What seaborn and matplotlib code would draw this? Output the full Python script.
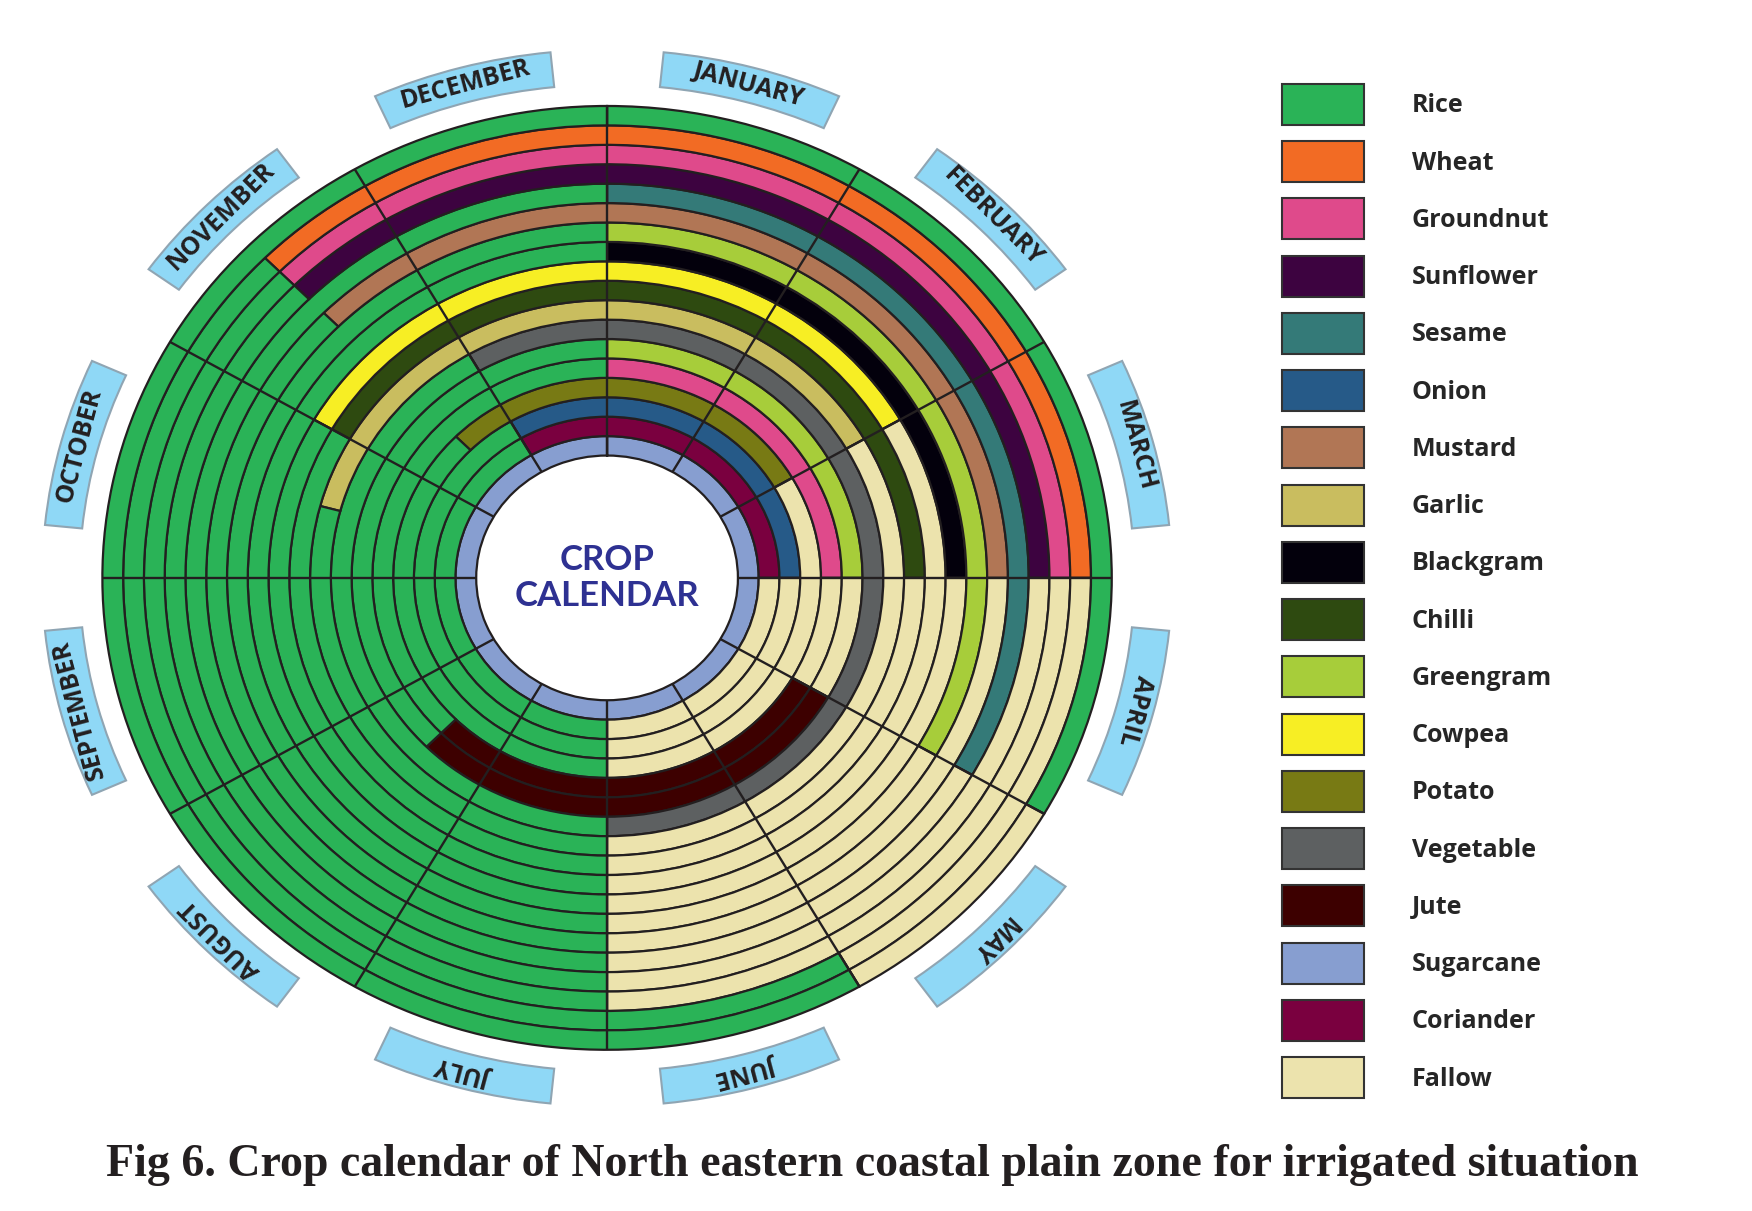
import numpy as np
import pandas as pd
import matplotlib
matplotlib.use("Agg")
import matplotlib.pyplot as plt
import seaborn as sns
from matplotlib.patches import Patch

# ---- data -------------------------------------------------------------
crops = ["Rice", "Wheat", "Groundnut", "Sunflower", "Sesame", "Onion", "Mustard",
         "Garlic", "Blackgram", "Chilli", "Greengram", "Cowpea", "Potato",
         "Vegetable", "Jute", "Sugarcane", "Coriander", "Fallow"]
crop_colors = ["#2ab357", "#f26b24", "#df4a8b", "#3d0340", "#347a78", "#265a88",
               "#b17655", "#c9bd5f", "#03000c", "#2e4a10", "#a7cd3a", "#f7ee24",
               "#787a14", "#5d6061", "#3d0000", "#879ed0", "#7a003f", "#ece3ad"]
months = ["JANUARY", "FEBRUARY", "MARCH", "APRIL", "MAY", "JUNE", "JULY",
          "AUGUST", "SEPTEMBER", "OCTOBER", "NOVEMBER", "DECEMBER"]

# ring 1 = innermost; start/end in months from 1 January (values > 12 wrap round)
seg_ring = [1,
            2, 2, 2,
            3, 3, 3,
            4, 4, 4,
            5, 5, 5, 5,
            6, 6, 6, 6,
            7, 7,
            8, 8, 8,
            9, 9, 9,
            10, 10, 10,
            11, 11, 11,
            12, 12, 12,
            13, 13, 13,
            14, 14, 14,
            15, 15, 15,
            16, 16, 16,
            17, 17, 17,
            18, 18, 18]
seg_crop = ["Sugarcane",
            "Coriander", "Fallow", "Rice",
            "Onion", "Fallow", "Rice",
            "Potato", "Fallow", "Rice",
            "Groundnut", "Fallow", "Jute", "Rice",
            "Greengram", "Fallow", "Jute", "Rice",
            "Vegetable", "Rice",
            "Garlic", "Fallow", "Rice",
            "Chilli", "Fallow", "Rice",
            "Cowpea", "Fallow", "Rice",
            "Blackgram", "Fallow", "Rice",
            "Greengram", "Fallow", "Rice",
            "Mustard", "Fallow", "Rice",
            "Sesame", "Fallow", "Rice",
            "Sunflower", "Fallow", "Rice",
            "Groundnut", "Fallow", "Rice",
            "Wheat", "Fallow", "Rice",
            "Rice", "Fallow", "Rice"]
seg_start = [0,
             11, 3, 6,
             11, 3, 6,
             10.5, 2, 6,
             0, 3, 4, 7.5,
             0, 3, 4, 7.5,
             11, 6,
             9.5, 2, 6,
             10, 3, 6,
             10, 2, 6,
             0, 3, 6,
             0, 4, 6,
             10.5, 3, 6,
             0, 4, 6,
             10.5, 3, 6,
             10.5, 3, 6,
             10.5, 3, 5,
             0, 4, 5]
seg_end = [12,
           15, 6, 11,
           15, 6, 11,
           14, 6, 10.5,
           3, 4, 7.5, 12,
           3, 4, 7.5, 12,
           18, 11,
           14, 6, 9.5,
           15, 6, 10,
           14, 6, 10,
           3, 6, 12,
           4, 6, 12,
           15, 6, 10.5,
           4, 6, 12,
           15, 6, 10.5,
           15, 6, 10.5,
           15, 5, 10.5,
           4, 5, 12]

# ---- style ------------------------------------------------------------
sns.set_theme(style="white")
plt.rcParams["font.family"] = ["Open Sans", "DejaVu Sans"]
palette = dict(zip(crops, crop_colors))
edge = "#231f20"

df = pd.DataFrame({"ring": seg_ring, "crop": seg_crop,
                   "start": seg_start, "end": seg_end})

r0 = 6.3          # radius of the hole
rmax = 27.5

fig = plt.figure(figsize=(17.52, 12.11), dpi=100)
ax = fig.add_axes([0.0205, 0.0818, 0.652, 0.882], projection="polar")
ax.set_aspect("auto")
ax.set_theta_zero_location("N")
ax.set_theta_direction(-1)

to_rad = np.pi / 6.0
for _, row in df.iterrows():
    ax.bar(x=row["start"] * to_rad, height=1.0,
           width=(row["end"] - row["start"]) * to_rad,
           bottom=r0 + row["ring"] - 1, align="edge",
           color=palette[row["crop"]], edgecolor=edge, linewidth=1.6)

# month dividers through all rings
n_rings = max(seg_ring)
ax.vlines(np.arange(12) * to_rad, r0, r0 + n_rings, color=edge, linewidth=1.7)

# month banners
for i, name in enumerate(months):
    mid = (i + 0.5) * to_rad
    ax.bar(x=mid, height=1.8, width=np.deg2rad(18.5), bottom=25.4,
           color="#8fd8f6", edgecolor="#8fa5b3", linewidth=1.5)
    ax.text(mid, 26.3, name, rotation=-(i + 0.5) * 30, rotation_mode="anchor",
            ha="center", va="center", fontsize=18, fontweight="bold",
            color="#231f20")

ax.text(0, 0, "CROP\nCALENDAR", ha="center", va="center", fontsize=25,
        fontweight="bold", color="#2e3192", linespacing=1.15,
        family=["Lato", "DejaVu Sans"])

ax.set_ylim(0, rmax)
ax.set_axis_off()

# legend
handles = [Patch(facecolor=c, edgecolor="#333333", linewidth=1.5) for c in crop_colors]
fig.legend(handles, crops, loc="upper left",
           bbox_to_anchor=(1282 / 1752, 1 - 84 / 1211),
           frameon=False, borderpad=0, borderaxespad=0,
           handlelength=3.28, handleheight=2.146, labelspacing=0.65,
           handletextpad=1.9, prop={"weight": "bold", "size": 18})

fig.text((108 + 1636) / 2 / 1752, 1 - 1165 / 1211,
         "Fig 6. Crop calendar of North eastern coastal plain zone for irrigated situation",
         ha="center", va="center", fontsize=33, fontweight="bold",
         family="Liberation Serif", color="#231f20")

fig.savefig("out.png", dpi=100, facecolor="white")
